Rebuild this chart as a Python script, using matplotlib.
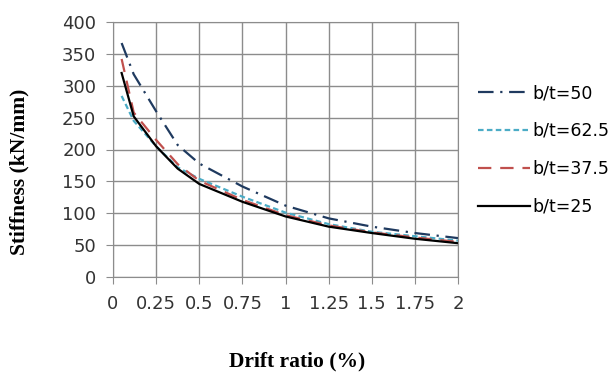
import matplotlib
matplotlib.use('Agg')
import matplotlib.pyplot as plt

# drift ratio (%) and stiffness (kN/mm)
drift = [0.05, 0.12, 0.25, 0.375, 0.5, 0.75, 1.0, 1.25, 1.5, 1.75, 2.0]
k_50 = [367, 318, 260, 207, 178, 142, 112, 92, 79, 69, 61]
k_625 = [284, 245, 205, 172, 154, 126, 101, 83, 71, 64, 57]
k_375 = [342, 258, 215, 177, 151, 121, 97, 81, 70, 62, 55]
k_25 = [320, 252, 205, 170, 146, 118, 95, 79, 69, 60, 53]

labels = ['b/t=50', 'b/t=62.5', 'b/t=37.5', 'b/t=25']
colors = ['#1f3a5f', '#4bacc6', '#c0504d', '#000000']
styles = [(0, (7, 3, 1, 3)), (0, (2.5, 1.5)), (0, (6, 4)), '-']

fig = plt.figure(figsize=(6.15, 3.74), dpi=100)
ax = fig.add_axes([113/615, 1-277/374, 345/615, 255/374])

for y, lab, c, ls in zip([k_50, k_625, k_375, k_25], labels, colors, styles):
	ax.plot(drift, y, color=c, linestyle=ls, lw=1.6, label=lab)

ax.set_xlim(0, 2)
ax.set_ylim(0, 400)
ax.set_xticks([0, 0.25, 0.5, 0.75, 1, 1.25, 1.5, 1.75, 2])
ax.set_xticklabels(['0', '0.25', '0.5', '0.75', '1', '1.25', '1.5', '1.75', '2'])
ax.set_yticks(range(0, 401, 50))
ax.grid(True, color='#8c8c8c', lw=1)
ax.set_axisbelow(True)
for s in ax.spines.values():
	s.set_color('#8c8c8c')
ax.tick_params(colors='#8c8c8c', length=5, labelcolor='#333333', labelsize=13)
ax.tick_params(axis='y', pad=7)
ax.tick_params(axis='x', pad=8)

ax.set_ylabel('Stiffness (kN/mm)', family='Liberation Serif', fontweight='bold', fontsize=15.5)
ax.yaxis.set_label_coords(-(113-29)/345, (277-172)/255)
ax.set_xlabel('Drift ratio (%)', family='Liberation Serif', fontweight='bold', fontsize=15.5)
ax.xaxis.set_label_coords((297-113)/345, -(351-277)/255)

ax.legend(loc='upper left', bbox_to_anchor=(478/615, 1-84/374), bbox_transform=fig.transFigure,
	frameon=False, fontsize=12.5, handlelength=3.0, handletextpad=0.15, labelspacing=1.15, borderpad=0, borderaxespad=0)

plt.savefig('out.png', dpi=100)
